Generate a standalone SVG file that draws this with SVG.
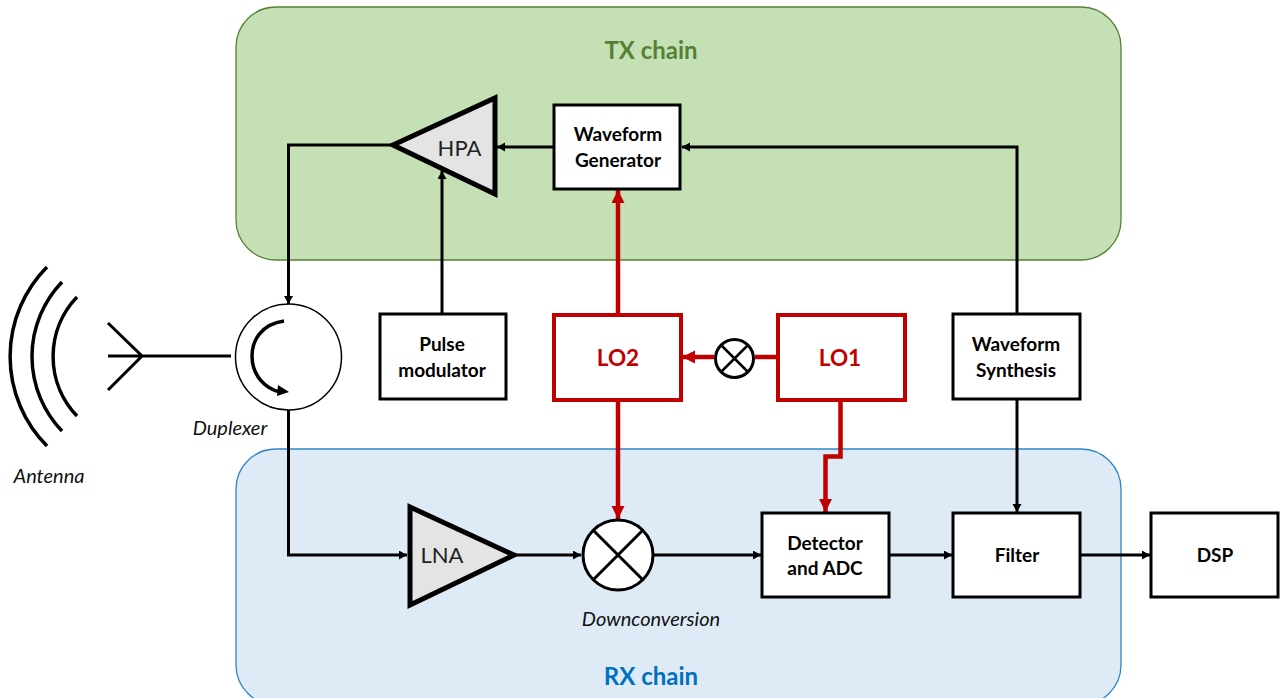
<svg xmlns="http://www.w3.org/2000/svg" width="1282" height="698" viewBox="0 0 1282 698">
<style>
text{font-family:Lato,"Open Sans","Liberation Sans",sans-serif;text-anchor:middle}
.box{fill:#fff;stroke:#000;stroke-width:3}
.lo{fill:#fff;stroke:#c00000;stroke-width:4}
.b{font-size:19px;font-weight:700;fill:#000}
.lot{font-size:22.500px;font-weight:700;fill:#c00000}
.i{font-size:20px;font-style:italic;fill:#111}
.amp{fill:#e4e4e4;stroke:#000;stroke-width:5;stroke-miterlimit:10}
.ampt{font-size:22px;fill:#222}
.k{fill:none;stroke:#000;stroke-width:3}
.r{fill:none;stroke:#c00000;stroke-width:4.500}
.mix{fill:#fff;stroke:#000;stroke-width:3}
.a{fill:none;stroke:#000;stroke-width:3.500}
.t{font-size:24px;font-weight:700}
</style>
<defs>
<marker id="ka" markerUnits="userSpaceOnUse" markerWidth="10" markerHeight="10" refX="8" refY="4.500" orient="auto"><path d="M0 0L8 4.500L0 9z" fill="#000"/></marker>
<marker id="ra" markerUnits="userSpaceOnUse" markerWidth="14" markerHeight="14" refX="13" refY="6.500" orient="auto"><path d="M0 0L13 6.500L0 13z" fill="#c00000"/></marker>
</defs>
<g id="tx-chain"><rect x="236" y="7" width="885" height="253" rx="40" fill="#c5e0b4" stroke="#548235" stroke-width="1.300"/><text class="t" x="651" y="59" fill="#548235">TX chain</text></g>
<g id="rx-chain"><rect x="236" y="449" width="885" height="256" rx="40" fill="#deebf7" stroke="#2e86c8" stroke-width="1.300"/><text class="t" x="651" y="685" fill="#0070c0">RX chain</text></g>
<g id="connectors">
<path class="k" d="M391 145H288.500V304" marker-end="url(#ka)"/>
<path class="k" d="M288.500 410V555H407" marker-end="url(#ka)"/>
<path class="k" d="M442 314V171" marker-end="url(#ka)"/>
<path class="k" d="M554 147H497" marker-end="url(#ka)"/>
<path class="k" d="M1017 314V147H682" marker-end="url(#ka)"/>
<path class="k" d="M1017 400V512" marker-end="url(#ka)"/>
<path class="k" d="M515 555H581" marker-end="url(#ka)"/>
<path class="k" d="M654 555H761" marker-end="url(#ka)"/>
<path class="k" d="M889 555H952" marker-end="url(#ka)"/>
<path class="k" d="M1081 555H1150" marker-end="url(#ka)"/>
<path class="r" d="M618 314V190" marker-end="url(#ra)"/>
<path class="r" d="M618 400V519" marker-end="url(#ra)"/>
<path class="r" d="M714 357H682" marker-end="url(#ra)"/>
<path class="r" d="M778 357H755"/>
<path class="r" d="M840.500 400V456.500H825.500V512" marker-end="url(#ra)"/>
</g>
<g id="antenna">
<path class="a" d="M47 267A127 127 0 0 0 47 446M62 282A107.500 107.500 0 0 0 62 431M77 297A86 86 0 0 0 77 416"/>
<path fill="none" stroke="#000" stroke-width="3" d="M108 323L142 356L108 390M108 356H231"/>
<text class="i" x="49" y="483">Antenna</text>
</g>
<g id="duplexer">
<circle cx="288.500" cy="357" r="53" fill="#fff" stroke="#000" stroke-width="1.500"/>
<path fill="none" stroke="#000" stroke-width="3.500" d="M284 321C262 324 252 340 252 356C252 376 266 389 280 392"/>
<path d="M278 385L289 392L277 396z" fill="#000"/>
<text class="i" x="230" y="435">Duplexer</text>
</g>
<g id="hpa"><path class="amp" d="M393 145L495 98V194z"/><text class="ampt" x="459.500" y="156">HPA</text></g>
<g id="waveform-generator"><rect class="box" x="554" y="105" width="126" height="84"/><text class="b" x="618" y="141">Waveform</text><text class="b" x="618" y="167">Generator</text></g>
<g id="pulse-modulator"><rect class="box" x="380" y="314" width="126" height="85"/><text class="b" x="442" y="351">Pulse</text><text class="b" x="442" y="377">modulator</text></g>
<g id="lo2"><rect class="lo" x="554" y="315" width="127" height="85"/><text class="lot" x="618" y="366">LO2</text></g>
<g id="lo-mixer"><circle class="mix" cx="734.500" cy="358.500" r="19"/><path fill="none" stroke="#000" stroke-width="2.500" d="M721 345L748 372M748 345L721 372"/></g>
<g id="lo1"><rect class="lo" x="778" y="315" width="127" height="85"/><text class="lot" x="840" y="366">LO1</text></g>
<g id="waveform-synthesis"><rect class="box" x="953" y="314" width="127" height="85"/><text class="b" x="1016" y="351">Waveform</text><text class="b" x="1016" y="377">Synthesis</text></g>
<g id="lna"><path class="amp" d="M410 507L514 555L410 605z"/><text class="ampt" x="442" y="563">LNA</text></g>
<g id="downconversion"><circle class="mix" cx="618" cy="555" r="35"/><path fill="none" stroke="#000" stroke-width="3" d="M593 530L643 580M643 530L593 580"/><text class="i" x="651" y="626">Downconversion</text></g>
<g id="detector"><rect class="box" x="762" y="513" width="127" height="84"/><text class="b" x="825" y="550">Detector</text><text class="b" x="825" y="575">and ADC</text></g>
<g id="filter"><rect class="box" x="953" y="513" width="127" height="84"/><text class="b" x="1017" y="562">Filter</text></g>
<g id="dsp"><rect class="box" x="1151" y="513" width="127" height="84"/><text class="b" x="1215" y="562">DSP</text></g>
</svg>
